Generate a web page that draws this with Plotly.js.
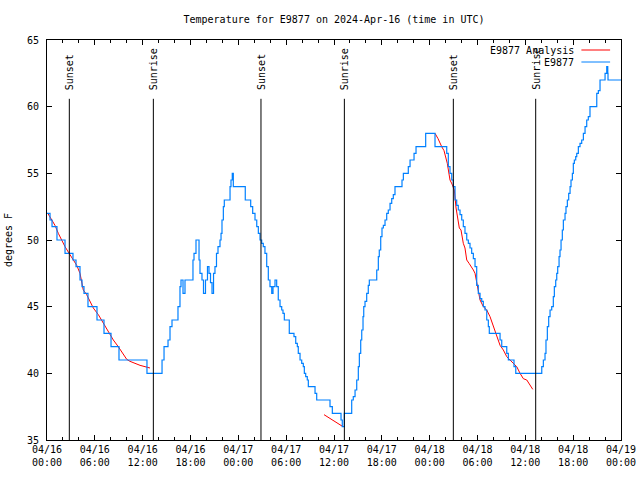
<!DOCTYPE html>
<html>
<head>
<meta charset="utf-8">
<script src="https://cdn.plot.ly/plotly-3.0.1.min.js"></script>
<style>html,body{margin:0;padding:0;background:#fff;}#chart{width:640px;height:480px;}</style>
</head>
<body>
<div id="chart"></div>
<script>
// Hours after 2024-04-16 00:00 UTC, and temperature (degrees F)
const stationHours = [0,0.38,0.63,1.25,2.26,3.26,3.64,4.14,4.39,4.64,5.14,6.27,7.15,8.03,9.03,12.54,14.43,14.68,15.18,15.43,15.68,16.43,16.68,16.81,17.06,17.31,18.31,18.44,18.69,19.07,19.19,19.44,19.63,19.88,20.13,20.32,20.51,20.70,20.89,21.07,21.26,21.45,21.70,21.83,21.95,22.12,22.24,22.96,23.08,23.24,23.37,24.87,25.55,25.80,26.09,26.31,26.51,26.72,26.93,27.13,27.34,27.56,27.76,27.97,28.19,28.35,28.60,28.81,29.01,29.23,29.44,29.60,29.77,30.39,30.98,31.20,31.40,31.52,31.74,31.95,32.15,32.28,32.45,32.65,32.78,33.62,33.83,35.50,35.79,36.88,37.04,37.29,38.22,38.42,38.64,38.85,39.05,39.18,39.35,39.48,39.64,39.73,39.89,40.10,40.30,40.43,41.36,41.56,41.68,41.86,42.02,42.19,42.40,42.61,42.81,43.03,43.24,43.44,43.65,44.53,44.70,45.32,45.54,46.04,46.29,47.50,48.67,50.14,50.34,50.55,50.77,50.97,51.18,51.39,51.59,51.81,52.02,52.22,52.43,52.65,52.85,53.06,53.27,53.48,53.69,53.90,54.10,54.32,54.53,54.73,54.94,55.16,55.36,55.48,56.83,57.04,57.67,57.87,58.58,58.80,62.06,62.26,62.47,62.59,62.76,62.93,63.10,63.31,63.51,63.64,63.81,63.94,64.06,64.23,64.35,64.48,64.64,64.77,64.98,65.10,65.27,65.44,65.61,65.73,65.90,66.02,66.15,66.32,66.45,66.65,66.86,67.07,67.28,67.49,67.70,67.90,68.11,68.96,69.16,69.37,70.00,70.21,70.34,70.37,72.00];
const stationTemps = [52,51.5,51,50,49,48.5,48,47,46.5,46,45,44,43,42,41,40,41,42,42.5,43.5,44,45,46.5,47,46,47,48.5,49,50,48.5,47.5,47,46,47,48,47.5,46.8,46,47.5,48,49,49.5,50,50.5,51.5,52.5,53,54,54.5,55,54,53,52.5,52,51.5,51,50.5,50,49.75,49.5,49,48,47,46.5,46,46.5,47,46.5,45.5,45,44.75,44.5,44,43,42.75,42.25,42,41.5,41,40.75,40.5,40,39.75,39.5,39,38.5,38,37.5,37,36.5,36,37,38,38.25,38.75,39.5,40.5,41.5,42.5,43.25,44.25,45,45.4,46,46.6,47,47.75,48.75,49.25,50.25,50.9,51.1,51.5,52,52.25,52.75,53.1,53.4,54,54.5,55,55.5,56,56.5,57,58,57,56.5,55.5,55,54.5,54,53,52.6,52.25,51.9,51.5,51,50.5,50,49.75,49.4,49,48.6,48,46.6,46,45.6,45.4,45,44.75,44,43.5,43,42.5,42,41.5,41,40.5,40,40.5,41,41.5,42.5,43.5,44.25,44.75,45,45.75,46.5,47,47.5,48,48.75,49.25,50,50.75,51.5,52,52.5,53,53.5,54,54.5,55,55.75,56,56.25,56.5,57,57.25,57.5,58,58.5,59,59.25,60,61,61.2,62,62.5,63,62.5,62,62];

// Analysis series (null = gap between analysis runs)
const analysisHours = [0.1,0.59,1.00,1.42,1.84,2.26,2.88,3.30,3.73,4.14,4.35,4.55,4.98,5.39,5.81,6.44,7.06,7.69,8.32,8.94,9.57,10.0,10.41,11.67,12.92,
  13.0,
  34.75,35.25,35.75,36.25,36.75,37.13,
  37.2,
  48.67,49.05,49.51,49.80,50.21,50.55,50.80,51.09,51.31,51.52,51.72,51.93,52.22,52.43,52.65,52.94,53.27,53.48,53.69,53.90,54.10,54.32,54.73,55.16,55.57,55.98,56.41,56.83,57.24,57.67,58.08,58.49,58.92,59.34,59.75,60.18,60.59,60.93];
const analysisTemps = [52,51.5,51.1,50.5,50,49.5,48.9,48.5,48.1,47.5,46.9,46.25,45.9,45.4,44.9,44.4,43.75,43.1,42.5,42,41.4,41.05,40.9,40.6,40.4,
  null,
  36.9,36.7,36.5,36.3,36.1,36.0,
  null,
  58,57.6,57,56.7,55.75,54.5,54.2,53.75,52.4,51.5,50.9,50.75,49.75,49.4,48.5,48.25,48,47.75,47.5,46.75,46.1,45.5,45,44.75,44.25,43.5,42.75,42.1,41.75,41.25,41,40.75,40.5,40,39.6,39.5,39.1,38.8];

// Sun events, hours after 2024-04-16 00:00 UTC
const sunEventHours = [2.80, 13.34, 26.84, 37.30, 50.97, 61.30];
const sunEventLabels = ["Sunset","Sunrise","Sunset","Sunrise","Sunset","Sunrise"];

const yTicks = [35,40,45,50,55,60,65];
const seriesNames = ["E9877 Analysis", "E9877"];
const seriesColors = ["#ff0000", "#0080ff"];

const base = Date.UTC(2024, 3, 16, 0, 0, 0);
function toDate(h) {
  if (h === null) return null;
  return new Date(base + Math.round(h * 3600000)).toISOString().slice(0, 19).replace('T', ' ');
}

const FONT = "DejaVu Sans Mono";

const traces = [
  {
    x: analysisHours.map(toDate), y: analysisTemps, name: seriesNames[0],
    type: "scatter", mode: "lines", connectgaps: false, showlegend: false,
    line: {color: seriesColors[0], width: 1}
  },
  {
    x: stationHours.map(toDate), y: stationTemps, name: seriesNames[1],
    type: "scatter", mode: "lines", showlegend: false,
    line: {color: seriesColors[1], width: 1.2, shape: "hv"}
  }
];

const shapes = sunEventHours.map(h => ({
  type: "line", xref: "x", yref: "paper",
  x0: toDate(h), x1: toDate(h), y0: 0, y1: 0.853,
  line: {color: "#000", width: 1}
}));

const annotations = sunEventHours.map((h, i) => ({
  xref: "x", yref: "paper", x: toDate(h), y: 0.87,
  text: sunEventLabels[i], showarrow: false, textangle: -90,
  xanchor: "center", yanchor: "bottom",
  font: {family: FONT, size: 10, color: "#000"}
}));

// gnuplot-style key: right-justified text followed by the line sample
const keyRows = [0.975, 0.945];
seriesNames.forEach((name, i) => {
  annotations.push({
    xref: "paper", yref: "paper", x: 0.921, y: keyRows[i],
    text: name, showarrow: false, xanchor: "right", yanchor: "middle",
    font: {family: FONT, size: 10, color: "#000"}
  });
  shapes.push({
    type: "line", xref: "paper", yref: "paper",
    x0: 0.931, x1: 0.981, y0: keyRows[i], y1: keyRows[i],
    line: {color: seriesColors[i], width: 1}
  });
});

const layout = {
  width: 640, height: 480,
  margin: {l: 47, r: 19, t: 40, b: 40},
  paper_bgcolor: "#fff", plot_bgcolor: "#fff",
  font: {family: FONT, size: 10, color: "#000"},
  title: {text: "Temperature for E9877 on 2024-Apr-16 (time in UTC)",
          x: 0.5, xref: "paper", y: 0.96, yref: "container", yanchor: "middle",
          font: {family: FONT, size: 10, color: "#000"}},
  showlegend: false,
  xaxis: {
    type: "date", range: [toDate(0), toDate(72)],
    dtick: 6 * 3600000, tick0: toDate(0), tickformat: "%m/%d<br>%H:%M",
    ticks: "inside", ticklen: 5, tickcolor: "#000",
    minor: {dtick: 2 * 3600000, ticks: "inside", ticklen: 3, tickcolor: "#000"},
    showline: true, linecolor: "#000", linewidth: 1, mirror: "allticks",
    showgrid: false, zeroline: false,
    tickfont: {family: FONT, size: 10}
  },
  yaxis: {
    range: [35, 65], tickvals: yTicks,
    ticks: "inside", ticklen: 5, tickcolor: "#000",
    showline: true, linecolor: "#000", linewidth: 1, mirror: "allticks",
    showgrid: false, zeroline: false, ticklabelstandoff: 5,
    tickfont: {family: FONT, size: 10},
    title: {text: "degrees F", font: {family: FONT, size: 10}, standoff: 12}
  },
  shapes: shapes,
  annotations: annotations
};

Plotly.newPlot("chart", traces, layout, {displayModeBar: false, staticPlot: true});
</script>
</body>
</html>
